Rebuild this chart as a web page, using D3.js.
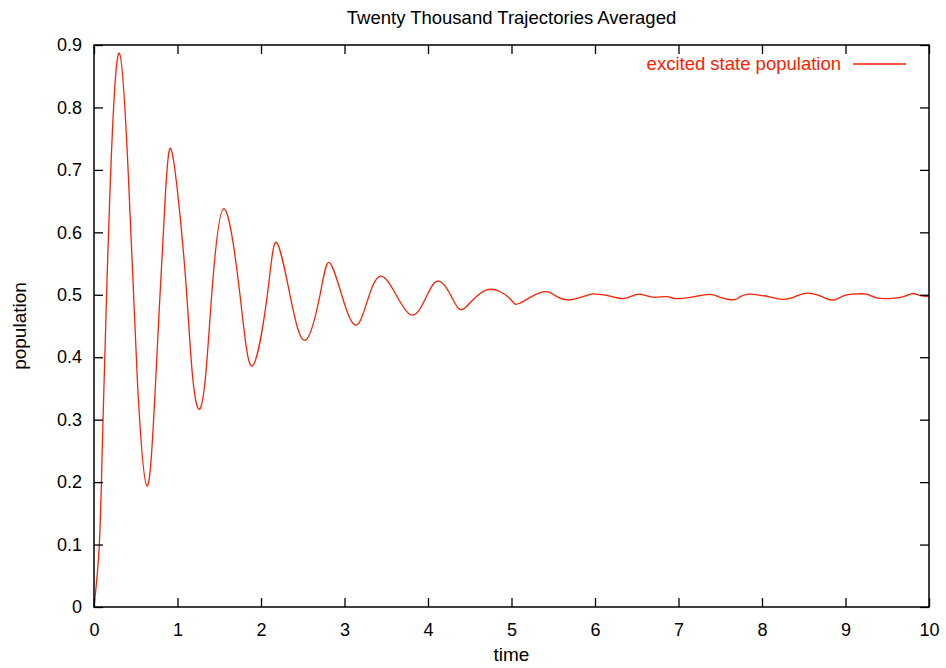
<!DOCTYPE html>
<html>
<head>
<meta charset="utf-8">
<script src="https://cdn.jsdelivr.net/npm/d3@7"></script>
<style>
  body { margin: 0; background: #fff; }
  text { font-family: "Liberation Sans", Arial, Helvetica, sans-serif; }
</style>
</head>
<body>
<div id="chart"></div>
<script>
// values
var times = [0, 0.064, 0.108, 0.192, 0.303, 0.419, 0.519, 0.635, 0.739, 0.858, 0.926, 0.998,
  1.10, 1.18, 1.266, 1.34, 1.41, 1.553, 1.748, 1.896, 2.076, 2.184, 2.347, 2.527, 2.707, 2.814, 2.966, 3.174,
  3.433, 3.792, 4.076, 4.30, 4.443, 4.703, 4.98, 5.09, 5.35, 5.52, 5.70, 5.92, 6.02, 6.18, 6.34, 6.48, 6.58, 6.70,
  6.86, 6.96, 7.14, 7.31, 7.42, 7.50, 7.66, 7.74, 7.84, 7.94, 8.08, 8.22, 8.36, 8.50, 8.66, 8.77, 8.87, 8.97, 9.09,
  9.25, 9.37, 9.53, 9.69, 9.80, 9.89, 10];
var population = [0, 0.10, 0.30, 0.668, 0.887, 0.668, 0.364, 0.194, 0.364, 0.668, 0.732, 0.668,
  0.52, 0.37, 0.317, 0.375, 0.50, 0.638, 0.50, 0.386, 0.50, 0.584, 0.50, 0.427, 0.50, 0.552, 0.50, 0.455,
  0.530, 0.468, 0.519, 0.492, 0.479, 0.508, 0.494, 0.486, 0.504, 0.499, 0.492, 0.500, 0.501, 0.498, 0.494, 0.500, 0.500, 0.496,
  0.497, 0.494, 0.496, 0.500, 0.500, 0.496, 0.492, 0.497, 0.501, 0.500, 0.497, 0.493, 0.495, 0.502, 0.500, 0.494, 0.492, 0.498, 0.501,
  0.501, 0.495, 0.494, 0.497, 0.502, 0.499, 0.497];
var xTicks = [0, 1, 2, 3, 4, 5, 6, 7, 8, 9, 10];
var yTicks = [0, 0.1, 0.2, 0.3, 0.4, 0.5, 0.6, 0.7, 0.8, 0.9];

var W = 946, H = 668;
var margin = {top: 45, right: 17, bottom: 61, left: 94},
    width = W - margin.left - margin.right,
    height = H - margin.top - margin.bottom;
var red = "#ff2000";

var svg = d3.select("#chart").append("svg")
    .attr("width", W)
    .attr("height", H);

var g = svg.append("g")
    .attr("transform", "translate(" + margin.left + "," + margin.top + ")");

var x = d3.scaleLinear().domain([0, 10]).range([0, width]);
var y = d3.scaleLinear().domain([0, 0.9]).range([height, 0]);

var data = times.map(function(t, i) { return {t: t, v: population[i]}; });

var line = d3.line()
    .x(function(d) { return x(d.t); })
    .y(function(d) { return y(d.v); })
    .curve(d3.curveNatural);

g.append("path")
    .datum(data)
    .attr("fill", "none")
    .attr("stroke", red)
    .attr("stroke-width", 1.3)
    .attr("d", line);

// gnuplot style: inward ticks mirrored on every side
var tickLen = 9;
function styleAxis(sel) {
  sel.select(".domain").remove();
  sel.selectAll(".tick line").attr("stroke", "#000").attr("stroke-width", 1.3);
  sel.selectAll(".tick text").attr("fill", "#000").style("font-size", "18px")
    .style("font-family", "'Liberation Sans', Arial, sans-serif");
}

g.append("g")
    .attr("transform", "translate(0," + height + ")")
    .call(d3.axisBottom(x).tickValues(xTicks).tickSize(-tickLen).tickPadding(16).tickFormat(d3.format("d")))
    .call(styleAxis);
g.append("g")
    .call(d3.axisTop(x).tickValues(xTicks).tickSize(-tickLen).tickFormat(""))
    .call(styleAxis);
g.append("g")
    .call(d3.axisLeft(y).tickValues(yTicks).tickSize(-tickLen).tickPadding(12).tickFormat(function(d) { return d === 0 ? "0" : d3.format(".1f")(d); }))
    .call(styleAxis);
g.append("g")
    .attr("transform", "translate(" + width + ",0)")
    .call(d3.axisRight(y).tickValues(yTicks).tickSize(-tickLen).tickFormat(""))
    .call(styleAxis);

g.append("rect")
    .attr("width", width)
    .attr("height", height)
    .attr("fill", "none")
    .attr("stroke", "#000")
    .attr("stroke-width", 1.5);

// titles
svg.append("text")
    .attr("x", margin.left + width / 2)
    .attr("y", 24)
    .attr("text-anchor", "middle")
    .style("font-size", "18.5px")
    .text("Twenty Thousand Trajectories Averaged");

svg.append("text")
    .attr("x", margin.left + width / 2)
    .attr("y", 661)
    .attr("text-anchor", "middle")
    .style("font-size", "19px")
    .text("time");

svg.append("text")
    .attr("transform", "translate(26," + (margin.top + height / 2) + ") rotate(-90)")
    .attr("text-anchor", "middle")
    .style("font-size", "19px")
    .text("population");

// legend
svg.append("text")
    .attr("x", 841)
    .attr("y", 70)
    .attr("text-anchor", "end")
    .attr("fill", red)
    .style("font-size", "18.5px")
    .text("excited state population");

svg.append("line")
    .attr("x1", 853).attr("x2", 906)
    .attr("y1", 64).attr("y2", 64)
    .attr("stroke", red)
    .attr("stroke-width", 1.3);
</script>
</body>
</html>
